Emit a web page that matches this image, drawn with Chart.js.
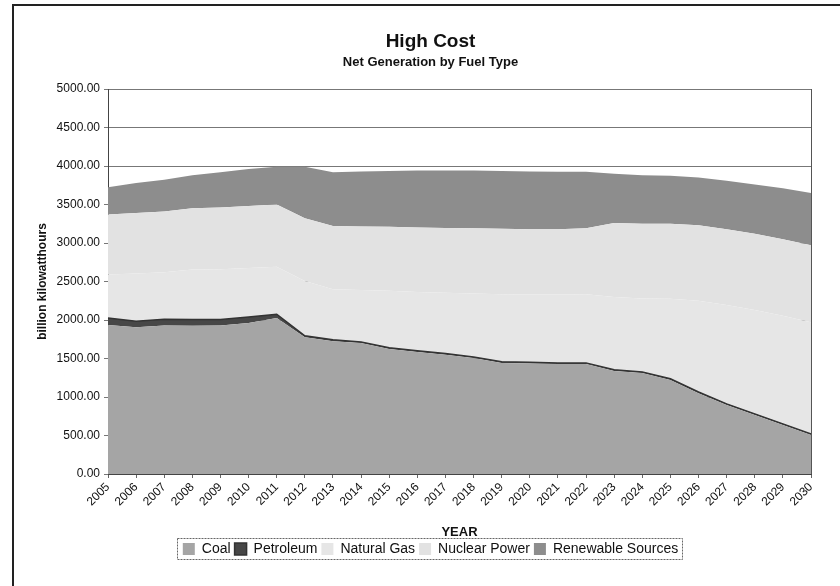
<!DOCTYPE html>
<html>
<head>
<meta charset="utf-8">
<script src="https://cdn.jsdelivr.net/npm/chart.js@4.4.0/dist/chart.umd.min.js"></script>
<style>
  html, body { margin: 0; padding: 0; background: #fff; }
  #wrap { width: 840px; height: 586px; }
</style>
</head>
<body>
<div id="wrap"><canvas id="grafico"></canvas></div>
<script>
// years on the x axis
const years = ["2005", "2006", "2007", "2008", "2009", "2010", "2011", "2012", "2013",
  "2014", "2015", "2016", "2017", "2018", "2019", "2020", "2021", "2022", "2023",
  "2024", "2025", "2026", "2027", "2028", "2029", "2030"];

// billion kilowatthours
const coal = [1935, 1905, 1930, 1925, 1930, 1960, 2025, 1775, 1725, 1700, 1625, 1585, 1550,
  1505, 1443, 1435, 1428, 1428, 1338, 1311, 1221, 1050, 896, 766, 636, 506];
const petroleum = [90, 80, 80, 80, 75, 80, 50, 20, 20, 15, 15, 15, 15,
  15, 15, 15, 15, 15, 15, 15, 15, 15, 15, 15, 15, 15];
const naturalGas = [565, 620, 610, 650, 655, 635, 615, 710, 655, 675, 740, 765, 790,
  825, 877, 880, 887, 892, 947, 954, 1039, 1185, 1284, 1349, 1404, 1449];
const nuclear = [780, 785, 790, 795, 800, 805, 810, 815, 820, 825, 830, 835, 840,
  845, 850, 850, 850, 855, 960, 970, 975, 980, 985, 990, 995, 1000];
const renewables = [355, 390, 410, 430, 460, 480, 490, 670, 700, 715, 725, 740, 745,
  750, 750, 750, 745, 735, 640, 630, 625, 620, 630, 640, 660, 680];

const yTicks = { min: 0, max: 5000, step: 500 };

const fontFam = "Arial, 'Liberation Sans', sans-serif";

function serie(label, data, color, fill, line) {
  return {
    label: label,
    data: data,
    backgroundColor: color,
    borderColor: line || color,
    borderWidth: line ? 1.5 : 0,
    pointRadius: 0,
    pointHoverRadius: 0,
    tension: 0,
    fill: fill
  };
}

// frame round the whole picture, border round plot and legend
const moldura = {
  id: 'moldura',
  beforeDraw(chart) {
    const ctx = chart.ctx;
    ctx.save();
    ctx.fillStyle = '#fff';
    ctx.fillRect(0, 0, chart.width, chart.height);
    ctx.strokeStyle = '#222';
    ctx.lineWidth = 2;
    ctx.beginPath();
    ctx.moveTo(13, chart.height);
    ctx.lineTo(13, 5);
    ctx.lineTo(chart.width, 5);
    ctx.stroke();
    ctx.restore();
  },
  afterDraw(chart) {
    const ctx = chart.ctx;
    const a = chart.chartArea;
    ctx.save();
    ctx.strokeStyle = '#555';
    ctx.lineWidth = 1;
    ctx.beginPath();
    ctx.moveTo(Math.round(a.right) + 0.5, a.top);
    ctx.lineTo(Math.round(a.right) + 0.5, a.bottom);
    ctx.stroke();
    const boxes = chart.legend && chart.legend.legendHitBoxes;
    if (boxes && boxes.length) {
      let l = Infinity, r = -Infinity, t = Infinity, b = -Infinity;
      boxes.forEach(h => {
        l = Math.min(l, h.left); r = Math.max(r, h.left + h.width);
        t = Math.min(t, h.top); b = Math.max(b, h.top + h.height);
      });
      ctx.setLineDash([2, 1]);
      ctx.strokeStyle = '#666';
      ctx.strokeRect(Math.round(l - 6) + 0.5, Math.round(t - 4) + 0.5, Math.round(r - l + 10), Math.round(b - t + 7));
    }
    ctx.restore();
  }
};

new Chart(
  document.getElementById('grafico'),
  {
    type: 'line',
    data: {
      labels: years,
      datasets: [
        serie('Coal', coal, '#a5a5a5', 'origin'),
        serie('Petroleum', petroleum, '#474747', '-1', '#333'),
        serie('Natural Gas', naturalGas, '#e6e6e6', '-1'),
        serie('Nuclear Power', nuclear, '#e2e2e2', '-1'),
        serie('Renewable Sources', renewables, '#8d8d8d', '-1')
      ]
    },
    options: {
      responsive: true,
      maintainAspectRatio: false,
      animation: false,
      layout: { padding: { left: 50, right: 29, top: 0, bottom: 20 } },
      plugins: {
        title: {
          display: true,
          text: 'High Cost',
          color: '#111',
          font: { family: fontFam, size: 19, weight: 'bold', lineHeight: 1.2 },
          padding: { top: 30, bottom: 0 }
        },
        subtitle: {
          display: true,
          text: 'Net Generation by Fuel Type',
          color: '#111',
          font: { family: fontFam, size: 13, weight: 'bold', lineHeight: 1.2 },
          padding: { top: 2, bottom: 18.6 }
        },
        legend: {
          position: 'bottom',
          labels: {
            boxWidth: 12,
            boxHeight: 12,
            padding: 4,
            color: '#111',
            font: { family: fontFam, size: 14 }
          }
        },
        tooltip: { enabled: false }
      },
      scales: {
        x: {
          afterFit(scale) { scale.height = 64; },
          grid: { drawOnChartArea: false, drawTicks: true, tickLength: 4, color: '#666' },
          border: { color: '#444' },
          ticks: {
            minRotation: 45,
            maxRotation: 45,
            autoSkip: false,
            padding: 2,
            color: '#111',
            font: { family: fontFam, size: 12 }
          },
          title: {
            display: true,
            text: 'YEAR',
            color: '#111',
            font: { family: fontFam, size: 13, weight: 'bold', lineHeight: 1 },
            padding: { top: 0, bottom: -1 }
          }
        },
        y: {
          stacked: true,
          min: yTicks.min,
          max: yTicks.max,
          afterFit(scale) { scale.width = 58; },
          grid: { color: '#777', tickLength: 4, lineWidth: 1 },
          border: { color: '#444' },
          ticks: {
            stepSize: yTicks.step,
            padding: 4,
            color: '#111',
            font: { family: fontFam, size: 12 },
            callback: v => v.toFixed(2)
          },
          title: {
            display: true,
            text: 'billion kilowatthours',
            color: '#111',
            font: { family: fontFam, size: 12, weight: 'bold', lineHeight: 1.2 },
            padding: { top: -15, bottom: 0 }
          }
        }
      }
    },
    plugins: [moldura]
  }
);
</script>
</body>
</html>
